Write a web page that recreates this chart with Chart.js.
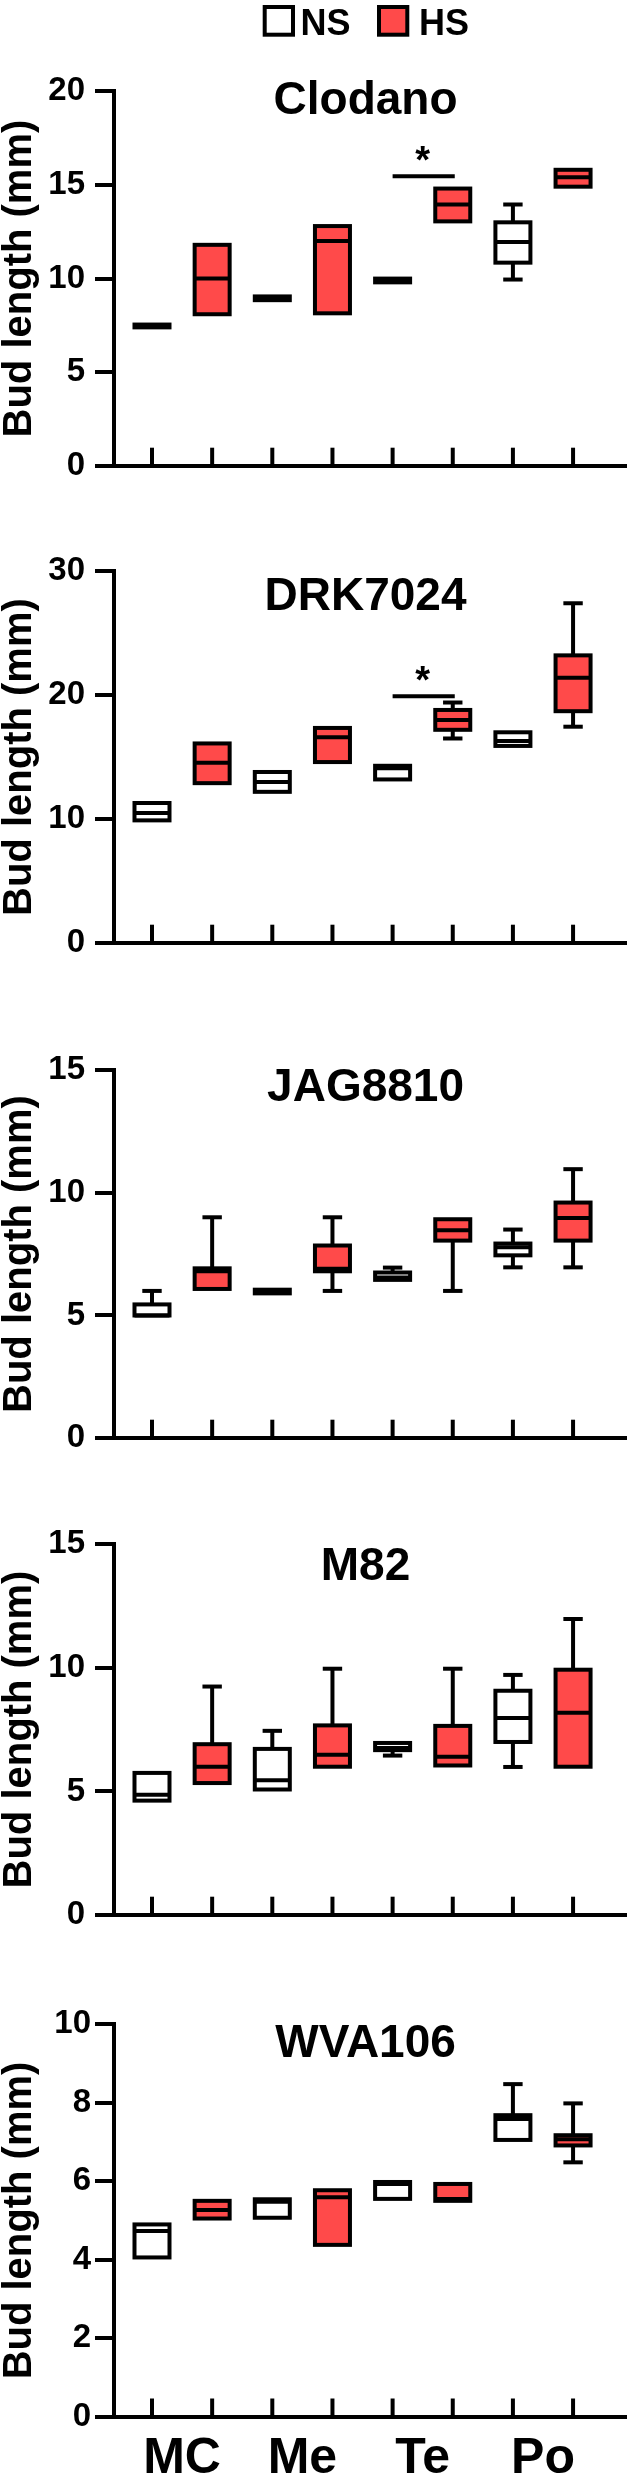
<!DOCTYPE html>
<html>
<head>
<meta charset="utf-8">
<script src="https://cdn.jsdelivr.net/npm/chart.js@4.4.1/dist/chart.umd.min.js"></script>
<style>
  html, body { margin: 0; padding: 0; background: #fff; }
  #page { position: relative; width: 628px; height: 2475px; overflow: hidden; }
  #page canvas { position: absolute; left: 0; }
</style>
</head>
<body>
<div id="page"></div>
<script>
const groups = ['MC', 'Me', 'Te', 'Po'];
const seriesNames = ['NS', 'HS'];
const seriesColors = ['#ffffff', '#ff4a4a'];
const cultivars = ['Clodano', 'DRK7024', 'JAG8810', 'M82', 'WVA106'];
const yMax = [20, 30, 15, 15, 10];
const yStep = [5, 10, 5, 5, 2];

// one row per cultivar, order: MC NS, MC HS, Me NS, Me HS, Te NS, Te HS, Po NS, Po HS
const whiskerLow = [
  [7.4, 8.1, 8.85, 8.15, 9.8, 13.05, 9.95, 14.9],
  [9.9, 12.9, 12.2, 14.6, 13.2, 16.5, 15.9, 17.45],
  [5.0, 6.08, 5.9, 6.0, 6.45, 6.0, 6.96, 6.96],
  [4.63, 5.34, 5.08, 6.0, 6.45, 6.05, 5.99, 6.0],
  [4.06, 5.05, 5.07, 4.38, 5.55, 5.5, 7.05, 6.48]
];
const boxQ1 = [
  [7.4, 8.1, 8.85, 8.15, 9.8, 13.05, 10.85, 14.9],
  [9.9, 12.9, 12.2, 14.6, 13.2, 17.2, 15.9, 18.7],
  [5.0, 6.08, 5.9, 6.8, 6.45, 8.05, 7.45, 8.05],
  [4.63, 5.34, 5.08, 6.0, 6.67, 6.05, 7.0, 6.0],
  [4.06, 5.05, 5.07, 4.38, 5.55, 5.5, 7.05, 6.91]
];
const boxMedian = [
  [7.5, 10, 8.95, 12, 9.9, 13.95, 11.95, 15.4],
  [10.5, 14.55, 13.0, 16.6, 14.1, 18.0, 16.3, 21.4],
  [5.0, 6.8, 6.0, 6.9, 6.55, 8.47, 7.78, 8.97],
  [4.87, 6.0, 5.45, 6.48, 6.76, 6.4, 7.97, 8.18],
  [4.73, 5.27, 5.48, 5.59, 5.93, 5.55, 7.58, 7.07]
];
const boxQ3 = [
  [7.55, 11.8, 9.05, 12.8, 10.0, 14.8, 13.0, 15.8],
  [11.3, 16.1, 13.8, 17.35, 14.3, 18.8, 17.0, 23.2],
  [5.45, 6.92, 6.05, 7.85, 6.75, 8.92, 7.93, 9.6],
  [5.75, 6.91, 6.72, 7.67, 6.96, 7.65, 9.07, 9.92],
  [4.9, 5.5, 5.54, 5.77, 5.98, 5.93, 7.68, 7.17]
];
const whiskerHigh = [
  [7.55, 11.8, 9.05, 12.8, 10.0, 14.8, 13.95, 15.8],
  [11.3, 16.1, 13.8, 17.35, 14.3, 19.4, 17.0, 27.4],
  [6.0, 9.0, 6.05, 9.0, 6.95, 8.92, 8.5, 10.96],
  [5.75, 9.24, 7.45, 9.96, 6.96, 9.96, 9.71, 11.97],
  [4.9, 5.5, 5.54, 5.77, 5.98, 5.93, 8.47, 7.98]
];
// "*" bar between Te NS and Te HS
const sigLevel = [15.45, 19.9, null, null, null];

// page layout (pixels)
const panelTop = [91, 571, 1070, 1544, 2024];
const panelZero = [488, 965, 1460, 1937, 2417];
const titleDrop = [23, 39, 31, 36, 33];
const tickPad = [10, 10, 10, 10, 4];

const FONT = "'Liberation Sans', Arial, Helvetica, sans-serif";
Chart.defaults.font.family = FONT;
Chart.defaults.color = '#000';

function line(ctx, x1, y1, x2, y2) {
  ctx.beginPath();
  ctx.moveTo(x1, y1);
  ctx.lineTo(x2, y2);
  ctx.stroke();
}

function boxPlugin(p) {
  return {
    id: 'boxPlot' + p,
    afterDatasetsDraw(chart) {
      const ctx = chart.ctx;
      const xs = chart.scales.x, ys = chart.scales.y;
      const area = chart.chartArea;
      ctx.save();
      ctx.strokeStyle = '#000';
      ctx.lineWidth = 4;
      ctx.lineCap = 'butt';

      // category ticks point up into the plot
      for (let k = 1; k <= 8; k++) {
        const px = xs.getPixelForValue(k);
        line(ctx, px, area.bottom, px, area.bottom - 18.5);
      }

      chart.data.datasets.forEach((ds, d) => {
        chart.getDatasetMeta(d).data.forEach((bar, j) => {
          const i = 2 * j + d;
          const cx = bar.x, half = bar.width / 2;
          const yHi = ys.getPixelForValue(whiskerHigh[p][i]);
          const yLo = ys.getPixelForValue(whiskerLow[p][i]);
          const yMed = ys.getPixelForValue(boxMedian[p][i]);
          if (whiskerHigh[p][i] > boxQ3[p][i]) {
            line(ctx, cx, bar.y, cx, yHi);
            line(ctx, cx - 9.7, yHi, cx + 9.7, yHi);
          }
          if (whiskerLow[p][i] < boxQ1[p][i]) {
            line(ctx, cx, bar.base, cx, yLo);
            line(ctx, cx - 9.7, yLo, cx + 9.7, yLo);
          }
          ctx.strokeRect(cx - half, bar.y, 2 * half, bar.base - bar.y);
          line(ctx, cx - half, yMed, cx + half, yMed);
        });
      });

      if (sigLevel[p] !== null) {
        const sy = ys.getPixelForValue(sigLevel[p]);
        const x1 = xs.getPixelForValue(5), x2 = xs.getPixelForValue(6);
        line(ctx, x1, sy, x2 + 2, sy);
        ctx.font = 'bold 38px ' + FONT;
        ctx.textAlign = 'center';
        ctx.textBaseline = 'alphabetic';
        ctx.fillStyle = '#000';
        const m = ctx.measureText('*');
        const cy = sy - 22.7;
        ctx.fillText('*', (x1 + x2) / 2, cy + (m.actualBoundingBoxAscent - m.actualBoundingBoxDescent) / 2);
      }

      ctx.fillStyle = '#000';
      ctx.font = 'bold 46px ' + FONT;
      ctx.textAlign = 'center';
      ctx.textBaseline = 'alphabetic';
      ctx.fillText(cultivars[p], xs.getPixelForValue(4.55), area.top + titleDrop[p]);

      if (p === 0) {
        const boxX = [264.7, 379];
        const textX = [300.5, 419];
        ctx.font = 'bold 36px ' + FONT;
        ctx.textAlign = 'left';
        seriesNames.forEach((name, s) => {
          ctx.fillStyle = seriesColors[s];
          ctx.fillRect(boxX[s], 7, 28.3, 27.7);
          ctx.strokeRect(boxX[s], 7, 28.3, 27.7);
          ctx.fillStyle = '#000';
          ctx.fillText(name, textX[s], 35);
        });
      }
      ctx.restore();
    }
  };
}

function makeChart(p) {
  const padTop = p === 0 ? panelTop[0] : 50;
  const xH = p === 4 ? 58 : 8;
  const canvas = document.createElement('canvas');
  canvas.width = 628;
  canvas.height = panelZero[p] - panelTop[p] + padTop + xH;
  canvas.style.top = (panelTop[p] - padTop) + 'px';
  document.getElementById('page').appendChild(canvas);

  const datasets = seriesNames.map((name, s) => ({
    label: name,
    data: groups.map((g, j) => {
      const i = 2 * j + s;
      return { x: i + 1, y: [boxQ1[p][i], boxQ3[p][i]] };
    }),
    backgroundColor: seriesColors[s],
    borderWidth: 0,
    barPercentage: 1,
    categoryPercentage: 1,
    maxBarThickness: 35,
    grouped: false
  }));

  new Chart(canvas, {
    type: 'bar',
    data: { datasets: datasets },
    options: {
      responsive: false,
      animation: false,
      layout: { padding: { top: padTop, right: 2, bottom: 0, left: 0 }, autoPadding: false },
      plugins: { legend: { display: false }, tooltip: { enabled: false } },
      scales: {
        x: {
          type: 'linear',
          offset: false,
          min: 0.36,
          max: 8.88,
          afterBuildTicks: s => { s.ticks = p === 4 ? [1.5, 3.5, 5.5, 7.5].map(v => ({ value: v })) : []; },
          afterFit: s => { s.height = xH; },
          grid: { display: false, offset: false },
          border: { display: true, color: '#000', width: 4 },
          ticks: {
            display: p === 4,
            autoSkip: false,
            maxRotation: 0,
            padding: 9,
            color: '#000',
            font: { size: 50, weight: 'bold', lineHeight: 1 },
            callback: (v, i) => groups[i]
          }
        },
        y: {
          min: 0,
          max: yMax[p],
          afterFit: s => { s.width = 113.5; },
          grid: { drawOnChartArea: false, drawTicks: true, tickLength: 18.5, lineWidth: 4, color: '#000' },
          border: { display: true, color: '#000', width: 4 },
          ticks: { stepSize: yStep[p], padding: tickPad[p], color: '#000', font: { size: 33, weight: 'bold' } },
          title: {
            display: true,
            text: 'Bud length (mm)',
            color: '#000',
            padding: 0,
            font: { size: 40, weight: 'bold', lineHeight: 1 }
          }
        }
      }
    },
    plugins: [boxPlugin(p)]
  });
}

cultivars.forEach((c, p) => makeChart(p));
</script>
</body>
</html>
